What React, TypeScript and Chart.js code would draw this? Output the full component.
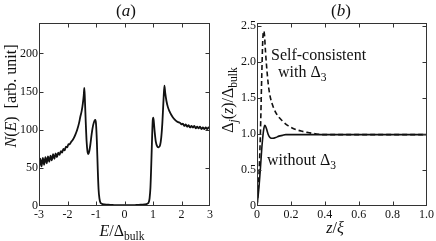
import React, { useEffect, useRef } from "react";
import { Chart, registerables } from "chart.js";
Chart.register(...registerables);

// ---------- Panel (a): density of states ----------
const dosEnergy = [
  -3.0, -2.955, -2.91, -2.865, -2.82, -2.775, -2.73, -2.685, -2.64, -2.595, -2.55, -2.505,
  -2.46, -2.415, -2.37, -2.325, -2.28, -2.235, -2.19, -2.145, -2.1, -2.055, -2.01, -1.965,
  -1.92, -1.875, -1.83, -1.78, -1.72, -1.66, -1.6, -1.55, -1.5, -1.46, -1.43, -1.41, -1.39,
  -1.36, -1.33, -1.3, -1.27, -1.24, -1.2, -1.15, -1.1, -1.05, -1.02, -1.0, -0.97, -0.94,
  -0.91, -0.88, -0.85, -0.8, -0.7, -0.5, -0.3, 0, 0.3, 0.5, 0.7, 0.8, 0.85, 0.88, 0.91,
  0.94, 0.97, 0.99, 1.01, 1.03, 1.06, 1.1, 1.15, 1.2, 1.25, 1.29, 1.33, 1.37, 1.4, 1.43,
  1.47, 1.52, 1.58, 1.65, 1.72, 1.8, 1.88, 1.95, 2.0, 2.05, 2.1, 2.15, 2.2, 2.25, 2.3, 2.35,
  2.4, 2.45, 2.5, 2.55, 2.6, 2.65, 2.7, 2.75, 2.8, 2.85, 2.9, 2.95, 3.0,
];
const dosValue = [
  50, 62, 52, 63, 54, 64, 56, 65, 58, 66, 60, 68,
  62, 69, 64, 70, 67, 72, 70, 75, 73, 78, 77, 81,
  81, 84, 86, 89, 94, 100, 108, 117, 125, 135, 145, 155, 140,
  110, 85, 72, 68, 71, 80, 95, 106, 112, 113, 108, 85, 50,
  22, 10, 5, 3, 2, 1.5, 1, 1, 1, 1.5, 2, 3, 5, 10, 24,
  55, 92, 112, 116, 110, 97, 84, 78, 77, 80, 90, 110, 140, 158, 148,
  138, 130, 124, 119, 115, 112, 110, 109, 107, 108, 105, 107, 104, 106, 103, 105,
  103, 105, 102, 104, 102, 104, 101, 103, 101, 103, 101, 103, 102,
];
const dosXTicks = [-3, -2, -1, 0, 1, 2, 3];
const dosYTicks = [0, 50, 100, 150, 200];

// ---------- Panel (b): gap profile ----------
const zWithout = [0, 0.01, 0.02, 0.03, 0.04, 0.047, 0.055, 0.065, 0.075, 0.085, 0.095, 0.11, 0.13, 0.15, 0.17, 0.2, 0.3, 0.4, 0.5, 0.6, 0.7, 0.8, 0.9, 1.0];
const gapWithout = [0, 0.22, 0.52, 0.85, 1.07, 1.12, 1.08, 1.0, 0.955, 0.94, 0.94, 0.95, 0.97, 0.98, 0.99, 0.99, 0.99, 0.99, 0.99, 0.99, 0.99, 0.99, 0.99, 0.99];
const zSelf = [0, 0.01, 0.02, 0.028, 0.034, 0.039, 0.044, 0.05, 0.058, 0.066, 0.075, 0.085, 0.1, 0.12, 0.15, 0.18, 0.22, 0.26, 0.3, 0.35, 0.4, 0.5, 0.6, 0.7, 0.8, 0.9, 1.0];
const gapSelf = [0, 0.35, 1.0, 1.8, 2.3, 2.43, 2.38, 2.15, 1.9, 1.7, 1.55, 1.45, 1.35, 1.26, 1.18, 1.12, 1.07, 1.04, 1.02, 1.0, 0.99, 0.99, 0.99, 0.99, 0.99, 0.99, 0.99];
const gapXTicks = [0, 0.2, 0.4, 0.6, 0.8, 1.0];
const gapYTicks = [0, 0.5, 1.0, 1.5, 2.0, 2.5];

const FONT = '"Liberation Serif", "Times New Roman", serif';

type Seg = { t: string; it?: boolean; sub?: boolean };
type Label = { segs: Seg[]; x: number; y: number; size: number; align: "left" | "center"; rotate?: boolean };

function drawRich(ctx: CanvasRenderingContext2D, l: Label) {
  const subSize = l.size * 0.72;
  const fontOf = (s: Seg) => `${s.it ? "italic " : ""}${s.sub ? subSize : l.size}px ${FONT}`;
  let total = 0;
  const widths = l.segs.map((s) => {
    ctx.font = fontOf(s);
    const w = ctx.measureText(s.t).width;
    total += w;
    return w;
  });
  ctx.save();
  ctx.translate(l.x, l.y);
  if (l.rotate) ctx.rotate(-Math.PI / 2);
  ctx.fillStyle = "#111";
  ctx.textBaseline = "alphabetic";
  ctx.textAlign = "left";
  let cx = l.align === "center" ? -total / 2 : 0;
  l.segs.forEach((s, i) => {
    ctx.font = fontOf(s);
    ctx.fillText(s.t, cx, s.sub ? l.size * 0.25 : 0);
    cx += widths[i];
  });
  ctx.restore();
}

const framePlugin = {
  id: "frame",
  afterDraw(chart: any) {
    const { ctx, chartArea: a, scales } = chart;
    const opts = chart.options.plugins.frame || {};
    ctx.save();
    ctx.strokeStyle = "#333";
    ctx.lineWidth = 1;
    const L = Math.round(a.left) + 0.5, R = Math.round(a.right) - 0.5;
    const T = Math.round(a.top) + 0.5, B = Math.round(a.bottom) - 0.5;
    ctx.strokeRect(L, T, R - L, B - T);
    const len = 4;
    ctx.beginPath();
    scales.x.ticks.forEach((t: any) => {
      const p = Math.round(scales.x.getPixelForValue(t.value)) + 0.5;
      if (p <= L + 1 || p >= R - 1) return;
      ctx.moveTo(p, B); ctx.lineTo(p, B - len);
      ctx.moveTo(p, T); ctx.lineTo(p, T + len);
    });
    scales.y.ticks.forEach((t: any) => {
      const p = Math.round(scales.y.getPixelForValue(t.value)) + 0.5;
      if (p <= T + 1 || p >= B - 1) return;
      ctx.moveTo(L, p); ctx.lineTo(L + len, p);
      ctx.moveTo(R, p); ctx.lineTo(R - len, p);
    });
    ctx.stroke();
    ctx.restore();
    (opts.labels || []).forEach((l: Label) => drawRich(ctx, l));
  },
};

function makeOptions(xmin: number, xmax: number, ymin: number, ymax: number, xt: number[], yt: number[], fmt: (v: number) => string, labels: Label[]) {
  return {
    responsive: false,
    animation: false as const,
    devicePixelRatio: 1,
    layout: { padding: { left: 0, right: 8, top: 23, bottom: 0 } },
    plugins: { legend: { display: false }, tooltip: { enabled: false }, frame: { labels } },
    elements: { point: { radius: 0 } },
    scales: {
      x: {
        type: "linear" as const,
        min: xmin,
        max: xmax,
        grid: { display: false, drawTicks: false },
        border: { display: false },
        afterBuildTicks: (s: any) => { s.ticks = xt.map((v) => ({ value: v })); },
        afterFit: (s: any) => { s.height = 35; },
        ticks: { color: "#111", font: { family: FONT, size: 12 }, padding: 2, maxRotation: 0, autoSkip: false, callback: (v: any) => fmt(Number(v)) },
      },
      y: {
        type: "linear" as const,
        min: ymin,
        max: ymax,
        grid: { display: false, drawTicks: false },
        border: { display: false },
        afterBuildTicks: (s: any) => { s.ticks = yt.map((v) => ({ value: v })); },
        afterFit: (s: any) => { s.width = 39; },
        ticks: { color: "#111", font: { family: FONT, size: 12 }, padding: 1, autoSkip: false, callback: (v: any) => fmt(Number(v)) },
      },
    },
  };
}

const labelsA: Label[] = [
  { segs: [{ t: "(" }, { t: "a", it: true }, { t: ")" }], x: 126, y: 16, size: 17, align: "center" },
  { segs: [{ t: "E", it: true }, { t: "/Δ" }, { t: "bulk", sub: true }], x: 122, y: 236, size: 16, align: "center" },
  { segs: [{ t: "N", it: true }, { t: "(" }, { t: "E", it: true }, { t: ")  [arb. unit]" }], x: 16, y: 96, size: 16, align: "center", rotate: true },
];
const labelsB: Label[] = [
  { segs: [{ t: "(" }, { t: "b", it: true }, { t: ")" }], x: 123, y: 16, size: 17, align: "center" },
  { segs: [{ t: "z", it: true }, { t: "/" }, { t: "ξ", it: true }], x: 117, y: 233, size: 16, align: "center" },
  { segs: [{ t: "Δ" }, { t: "j", it: true, sub: true }, { t: "(" }, { t: "z", it: true }, { t: ")/Δ" }, { t: "bulk", sub: true }], x: 15, y: 100, size: 16, align: "center", rotate: true },
  { segs: [{ t: "Self-consistent" }], x: 53, y: 60, size: 16, align: "left" },
  { segs: [{ t: "with Δ" }, { t: "3", sub: true }], x: 60, y: 77, size: 16, align: "left" },
  { segs: [{ t: "without Δ" }, { t: "3", sub: true }], x: 49, y: 165, size: 16, align: "left" },
];

function Panel({ left, config }: { left: number; config: () => any }) {
  const ref = useRef<HTMLCanvasElement>(null);
  useEffect(() => {
    const chart = new Chart(ref.current as HTMLCanvasElement, config());
    return () => chart.destroy();
  }, []);
  return (
    <canvas
      ref={ref}
      width={218}
      height={241}
      style={{ position: "absolute", left, top: 0, width: 218, height: 241 }}
    />
  );
}

export default function App() {
  const cfgA = () => ({
    type: "line",
    data: {
      datasets: [
        {
          data: dosEnergy.map((x, i) => ({ x, y: dosValue[i] })),
          borderColor: "#111",
          borderWidth: 1.8,
          cubicInterpolationMode: "monotone",
          fill: false,
        },
      ],
    },
    options: makeOptions(-3, 3, 0, 240, dosXTicks, dosYTicks, (v) => String(v), labelsA),
    plugins: [framePlugin],
  });
  const cfgB = () => ({
    type: "line",
    data: {
      datasets: [
        {
          data: zSelf.map((x, i) => ({ x, y: gapSelf[i] })),
          borderColor: "#111",
          borderWidth: 1.6,
          borderDash: [5, 3],
          cubicInterpolationMode: "monotone",
          fill: false,
        },
        {
          data: zWithout.map((x, i) => ({ x, y: gapWithout[i] })),
          borderColor: "#111",
          borderWidth: 1.6,
          cubicInterpolationMode: "monotone",
          fill: false,
        },
      ],
    },
    options: makeOptions(0, 1, 0, 2.54, gapXTicks, gapYTicks, (v) => (v === 0 ? "0" : v.toFixed(1)), labelsB),
    plugins: [framePlugin],
  });
  return (
    <div style={{ position: "absolute", left: 0, top: 0, width: 436, height: 241, background: "#fff" }}>
      <Panel left={0} config={cfgA} />
      <Panel left={218} config={cfgB} />
    </div>
  );
}
